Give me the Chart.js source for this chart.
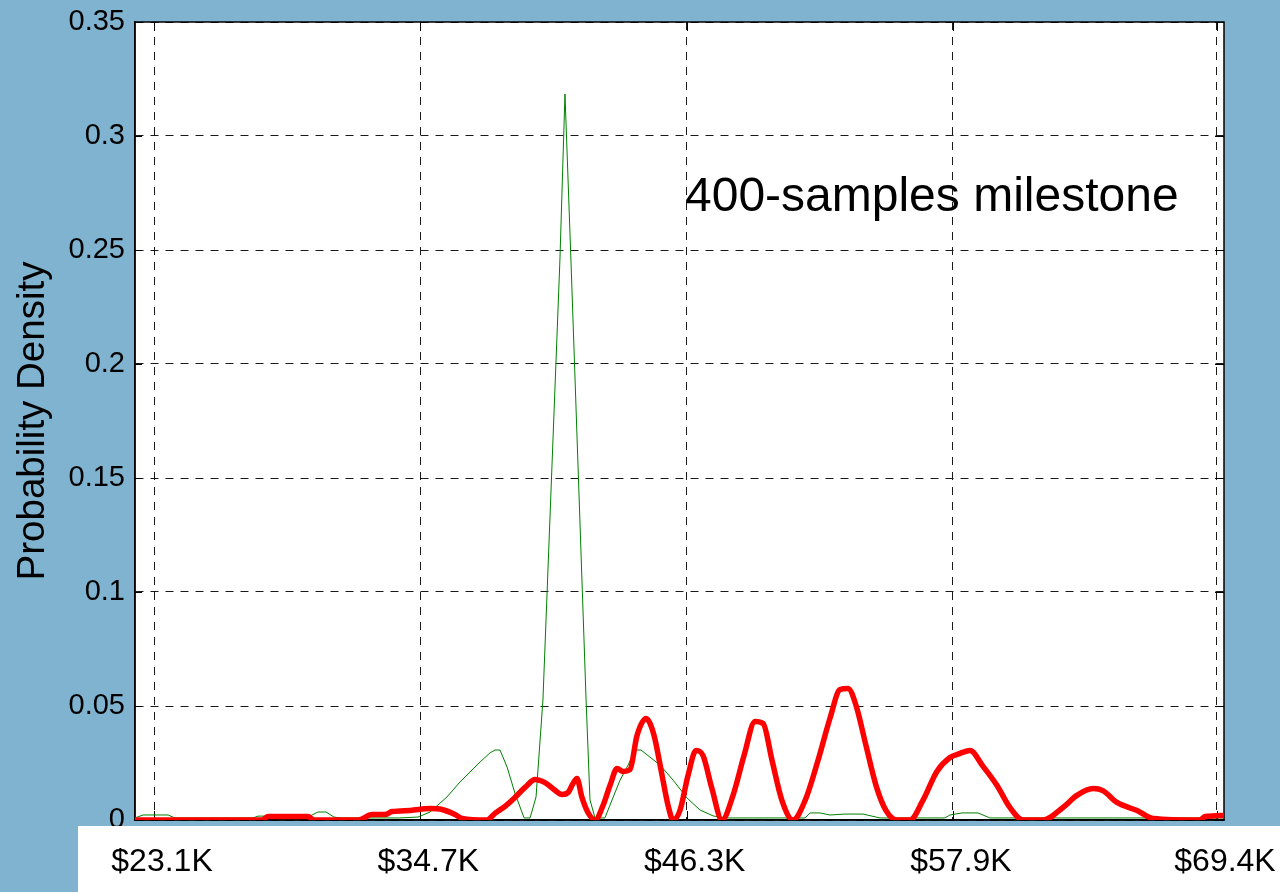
<!DOCTYPE html>
<html>
<head>
<meta charset="utf-8">
<script src="https://cdn.jsdelivr.net/npm/chart.js@4/dist/chart.umd.min.js"></script>
<style>
  html, body { margin: 0; padding: 0; background: #80b3cf; }
  canvas { display: block; }
</style>
</head>
<body>
<canvas id="c" width="1280" height="892"></canvas>
<script>
// Axis ticks (x in thousands of dollars)
const xTickValues = [23.1, 34.7, 46.3, 57.9, 69.4];
const xTickLabels = ['$23.1K', '$34.7K', '$46.3K', '$57.9K', '$69.4K'];
const yTickValues = [0, 0.05, 0.1, 0.15, 0.2, 0.25, 0.3, 0.35];
const yTickLabels = ['0', '0.05', '0.1', '0.15', '0.2', '0.25', '0.3', '0.35'];

const yTitle = 'Probability Density';
const annotationText = '400-samples milestone';

// Density curves as [value in $K, density] pairs
const redSeries = [
  [22.27, 0], [27.80, 0], [28.07, 0.0015], [29.81, 0.0015], [30.07, 0], [31.99, 0],
  [32.60, 0.0024], [33.16, 0.0024], [33.47, 0.0037], [34.25, 0.0042], [35.12, 0.005],
  [35.64, 0.0046], [36.21, 0.0024], [36.52, 0.0007], [37.60, 0], [37.95, 0.0029],
  [38.39, 0.006], [38.82, 0.0099], [39.26, 0.0143], [39.70, 0.0178], [40.13, 0.0164],
  [40.57, 0.013], [40.87, 0.0112], [41.13, 0.012], [41.35, 0.016], [41.52, 0.0182],
  [41.74, 0.0099], [42.00, 0.0033], [42.31, 0], [42.66, 0.0064], [42.96, 0.0151],
  [43.27, 0.0226], [43.53, 0.0213], [43.83, 0.0221], [44.14, 0.0371], [44.53, 0.0445],
  [44.88, 0.0371], [45.23, 0.0195], [45.49, 0.0064], [45.71, 0], [46.01, 0.0042],
  [46.36, 0.0195], [46.71, 0.0305], [47.01, 0.0283], [47.40, 0.0138], [47.84, 0],
  [48.32, 0.0108], [48.80, 0.0283], [49.28, 0.0432], [49.63, 0.0423], [50.02, 0.0261],
  [50.45, 0.0086], [50.93, 0], [51.46, 0.0086], [52.02, 0.0261], [52.54, 0.0445],
  [52.98, 0.0572], [53.33, 0.0577], [53.68, 0.0502], [54.11, 0.0327], [54.55, 0.0151],
  [54.98, 0.0042], [55.46, 0], [56.03, 0], [56.59, 0.0086], [57.20, 0.0213],
  [57.77, 0.0274], [58.21, 0.0292], [58.64, 0.0305], [59.21, 0.0235], [59.82, 0.0151],
  [60.38, 0.0055], [60.95, 0], [61.82, 0], [62.69, 0.0055], [63.30, 0.0108],
  [64.00, 0.0138], [64.43, 0.0129], [65.04, 0.0077], [65.92, 0.0042], [66.61, 0.0007],
  [68.66, 0], [68.88, 0.0015], [69.79, 0.002]
];

const greenSeries = [
  [22.27, 0.0009], [22.62, 0.0022], [23.71, 0.0022], [24.01, 0.0009], [27.41, 0.0009],
  [27.63, 0.0017], [29.89, 0.0017], [30.24, 0.0035], [30.59, 0.0035], [30.94, 0.0013],
  [31.20, 0.0009], [33.81, 0.0009], [34.60, 0.0013], [35.12, 0.0035], [35.86, 0.0101],
  [36.43, 0.0167], [36.86, 0.021], [37.30, 0.0254], [37.73, 0.0294], [37.95, 0.0307],
  [38.17, 0.0307], [38.48, 0.0232], [38.82, 0.0118], [39.22, 0.0009], [39.48, 0.0009],
  [39.74, 0.0101], [40.04, 0.0526], [40.78, 0.2456], [41.00, 0.3184], [41.26, 0.2456],
  [41.92, 0.0526], [42.09, 0.0088], [42.31, 0.0009], [42.74, 0.0009], [43.05, 0.0088],
  [43.40, 0.0175], [43.75, 0.0241], [44.05, 0.0307], [44.31, 0.0307], [44.70, 0.0276],
  [45.14, 0.0241], [45.71, 0.0175], [46.32, 0.0096], [46.88, 0.0044], [47.45, 0.0018],
  [47.97, 0.0009], [51.46, 0.0009], [51.67, 0.0031], [52.11, 0.0031], [52.54, 0.0022],
  [53.20, 0.0026], [53.98, 0.0026], [54.72, 0.0009], [57.55, 0.0009], [57.77, 0.0022],
  [58.29, 0.0031], [58.99, 0.0031], [59.51, 0.0009], [69.70, 0.0009]
];

const FONT = '"Liberation Sans", Arial, sans-serif';
Chart.defaults.font.family = FONT;
Chart.defaults.color = '#000';

const toPoints = s => s.map(([x, y]) => ({ x, y }));

// White plot area, frame with inward tick marks, label strip and the caption text
const framePlugin = {
  id: 'frame',
  beforeDraw(chart) {
    const { ctx, chartArea: a } = chart;
    ctx.save();
    ctx.fillStyle = '#ffffff';
    ctx.fillRect(a.left, a.top, a.right - a.left, a.bottom - a.top);
    ctx.restore();
  },
  beforeDatasetsDraw(chart) {
    const { ctx, chartArea: a, scales: { x, y } } = chart;
    ctx.save();
    ctx.strokeStyle = '#000';
    ctx.lineWidth = 1.5;
    ctx.strokeRect(a.left, a.top, a.right - a.left, a.bottom - a.top);
    ctx.lineWidth = 1;
    ctx.beginPath();
    yTickValues.forEach(v => {
      const p = Math.round(y.getPixelForValue(v)) + 0.5;
      ctx.moveTo(a.left, p); ctx.lineTo(a.left + 7, p);
      ctx.moveTo(a.right, p); ctx.lineTo(a.right - 9, p);
    });
    xTickValues.forEach(v => {
      const p = Math.round(x.getPixelForValue(v)) + 0.5;
      ctx.moveTo(p, a.bottom); ctx.lineTo(p, a.bottom - 9);
      ctx.moveTo(p, a.top); ctx.lineTo(p, a.top + 9);
    });
    ctx.stroke();
    ctx.restore();
  },
  afterDatasetsDraw(chart) {
    const { ctx } = chart;
    ctx.save();
    ctx.fillStyle = '#ffffff';
    ctx.fillRect(78, 826, chart.width - 78, chart.height - 826);
    ctx.restore();
  },
  afterDraw(chart) {
    const { ctx } = chart;
    ctx.save();
    ctx.font = '48px ' + FONT;
    ctx.fillStyle = '#000';
    ctx.textBaseline = 'alphabetic';
    ctx.textAlign = 'left';
    ctx.fillText(annotationText, 685, 211);
    ctx.restore();
  }
};

const gridOpts = { color: '#1a1a1a', lineWidth: 1, drawTicks: false };
const borderOpts = { display: true, color: '#000', width: 1.5, dash: [8, 7] };

new Chart(document.getElementById('c'), {
  type: 'line',
  data: {
    datasets: [
      {
        label: 'Red density',
        data: toPoints(redSeries),
        borderColor: '#ff0000',
        borderWidth: 5.5,
        cubicInterpolationMode: 'monotone',
        borderJoinStyle: 'round',
        borderCapStyle: 'round',
        pointRadius: 0,
        fill: false
      },
      {
        label: 'Green density',
        data: toPoints(greenSeries),
        borderColor: '#008000',
        borderWidth: 1,
        tension: 0,
        pointRadius: 0,
        fill: false
      }
    ]
  },
  options: {
    responsive: false,
    animation: false,
    devicePixelRatio: 1,
    layout: { padding: { top: 22, right: 56, left: 0, bottom: 0 } },
    plugins: { legend: { display: false }, tooltip: { enabled: false } },
    scales: {
      x: {
        type: 'linear',
        min: 22.272,
        max: 69.705,
        afterBuildTicks: s => { s.ticks = xTickValues.map(v => ({ value: v })); },
        afterFit: s => { s.height = 72; s.paddingLeft = 0; s.paddingRight = 0; },
        grid: gridOpts,
        border: borderOpts,
        ticks: {
          z: 1, padding: 23, labelOffset: 8, maxRotation: 0, minRotation: 0, autoSkip: false,
          color: '#000', font: { size: 32 },
          callback: (v, i) => xTickLabels[i]
        }
      },
      y: {
        type: 'linear',
        min: 0,
        max: 0.35,
        afterBuildTicks: s => { s.ticks = yTickValues.map(v => ({ value: v })); },
        afterFit: s => { s.width = 135; s.paddingTop = 0; s.paddingBottom = 0; },
        grid: gridOpts,
        border: borderOpts,
        ticks: {
          padding: 10, color: '#000', font: { size: 29 },
          callback: (v, i) => yTickLabels[i]
        },
        title: {
          display: true, text: yTitle, color: '#000',
          font: { size: 38.5 }, padding: { top: 10, bottom: 0 }
        }
      }
    }
  },
  plugins: [framePlugin]
});
</script>
</body>
</html>
